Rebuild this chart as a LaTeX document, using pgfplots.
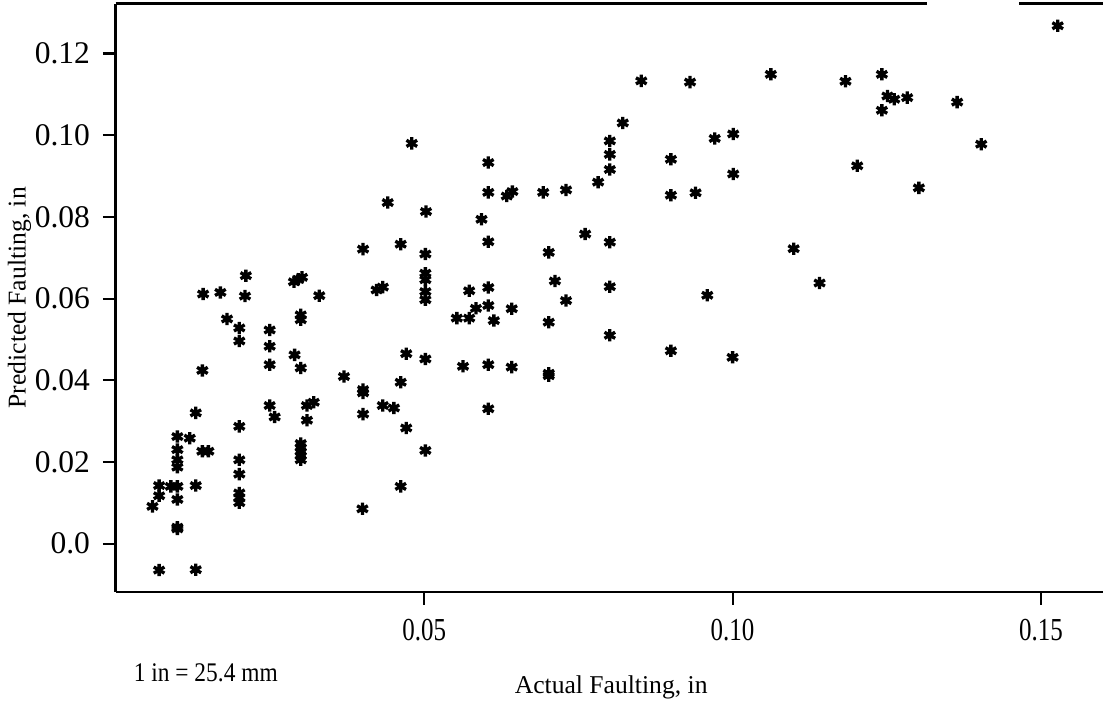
\documentclass[border=0pt]{standalone}
\usepackage{graphicx}
\usepackage{pgfplots}
\pgfplotsset{compat=1.18}
\usepackage{fontspec}
\setmainfont{Liberation Serif}
\newcommand{\xs}[1]{\scalebox{0.78}[1]{#1}}
\begin{document}
\begin{tikzpicture}
\begin{axis}[
  scale only axis,
  width=385.3pt, height=229.7pt,
  xmin=0, xmax=0.16, ymin=-0.0119, ymax=0.1322,
  axis x line*=bottom, axis y line*=left,
  axis line style={-, line width=1pt},
  tick align=outside,
  major tick length=5pt,
  tick style={line width=0.8pt, black},
  xtick={0.05,0.10,0.15}, xticklabels={\xs{0.05},\xs{0.10},\xs{0.15}},
  ytick={0,0.02,0.04,0.06,0.08,0.10,0.12},
  yticklabels={0.0,0.02,0.04,0.06,0.08,0.10,0.12},
  xticklabel style={font=\fontsize{12.5}{14}\selectfont, yshift=-2pt},
  yticklabel style={font=\fontsize{12.3}{14}\selectfont, xshift=-1.5pt},
  clip=false,
]
\addplot[only marks, mark=asterisk, mark size=2.4pt, mark options={line width=1.3pt, black}] table {
x y
0.0211 0.0656
0.01417 0.0611
0.01697 0.0615
0.02096 0.0606
0.01805 0.0550
0.02004 0.0528
0.02004 0.0496
0.02496 0.0523
0.02496 0.0483
0.02496 0.0438
0.01405 0.0424
0.02496 0.0338
0.02577 0.0310
0.01298 0.0320
0.02004 0.0287
0.0100 0.0262
0.0120 0.0258
0.0100 0.0230
0.01405 0.0226
0.01502 0.0226
0.0100 0.0205
0.0100 0.0187
0.02004 0.0205
0.02004 0.0170
0.02004 0.0124
0.02004 0.0112
0.02004 0.0100
0.00704 0.0142
0.00894 0.0140
0.0100 0.0140
0.00704 0.0117
0.01298 0.0142
0.0100 0.0108
0.00596 0.0091
0.0100 0.0040
0.0100 0.0036
0.00704 -0.0065
0.01298 -0.0064
0.0401 0.0721
0.0462 0.0733
0.0502 0.0709
0.0289 0.0641
0.0296 0.0647
0.0302 0.0652
0.0330 0.0607
0.0502 0.0662
0.0502 0.0646
0.0502 0.0617
0.0502 0.0597
0.0423 0.0621
0.0433 0.0628
0.0300 0.0560
0.0300 0.0548
0.0290 0.0462
0.0300 0.0430
0.0370 0.0409
0.0471 0.0465
0.0502 0.0452
0.0462 0.0395
0.0401 0.0377
0.0401 0.0369
0.0433 0.0338
0.0451 0.0332
0.0310 0.0338
0.0321 0.0346
0.0310 0.0302
0.0401 0.0317
0.0471 0.0283
0.0300 0.0245
0.0300 0.0235
0.0300 0.0225
0.0300 0.0215
0.0300 0.0205
0.0502 0.0228
0.0462 0.0140
0.0400 0.0085
0.0480 0.0980
0.0441 0.0835
0.0801 0.0986
0.0801 0.0953
0.0801 0.0916
0.0782 0.0885
0.0604 0.0933
0.0604 0.0860
0.0634 0.0851
0.0643 0.0862
0.0693 0.0860
0.0730 0.0866
0.0503 0.0813
0.0593 0.0794
0.0604 0.0739
0.0761 0.0758
0.0801 0.0738
0.0702 0.0713
0.0573 0.0619
0.0604 0.0627
0.0712 0.0643
0.0801 0.0629
0.0584 0.0576
0.0604 0.0583
0.0553 0.0552
0.0573 0.0552
0.0613 0.0546
0.0642 0.0575
0.0730 0.0595
0.0702 0.0542
0.0801 0.0510
0.0563 0.0434
0.0604 0.0438
0.0642 0.0432
0.0702 0.0417
0.0702 0.0411
0.0604 0.0330
0.0852 0.1133
0.0931 0.1130
0.1062 0.1149
0.0822 0.1030
0.0971 0.0992
0.1001 0.1003
0.0900 0.0941
0.1001 0.0905
0.0900 0.0853
0.0940 0.0859
0.1099 0.0722
0.0959 0.0608
0.0900 0.0472
0.1000 0.0456
0.1527 0.1268
0.1183 0.1132
0.1242 0.1149
0.1251 0.1096
0.1262 0.1088
0.1283 0.1092
0.1242 0.1061
0.1364 0.1081
0.1403 0.0978
0.1202 0.0925
0.1302 0.0871
0.1141 0.0638
};
\draw[line width=1pt] (axis cs:0,0.1322) -- (axis cs:0.1315,0.1322);
\draw[line width=1pt] (axis cs:0.1464,0.1322) -- (axis cs:0.16,0.1322);
\node[font=\fontsize{10}{12}\selectfont] at (axis description cs:0.502,-0.1618) {Actual Faulting, in};
\node[font=\fontsize{10.5}{12}\selectfont] at (axis description cs:0.0913,-0.1365) {\scalebox{0.87}[1]{1 in = 25.4 mm}};
\node[font=\fontsize{10}{12}\selectfont, rotate=90] at (axis description cs:-0.0975,0.5003) {Predicted Faulting, in};
\coordinate (bbl) at (axis description cs:-0.1172,-0.1958);
\coordinate (btr) at (axis description cs:1.0023,1.0063);
\end{axis}
\pgfresetboundingbox
\path (bbl) rectangle (btr);
\end{tikzpicture}
\end{document}
